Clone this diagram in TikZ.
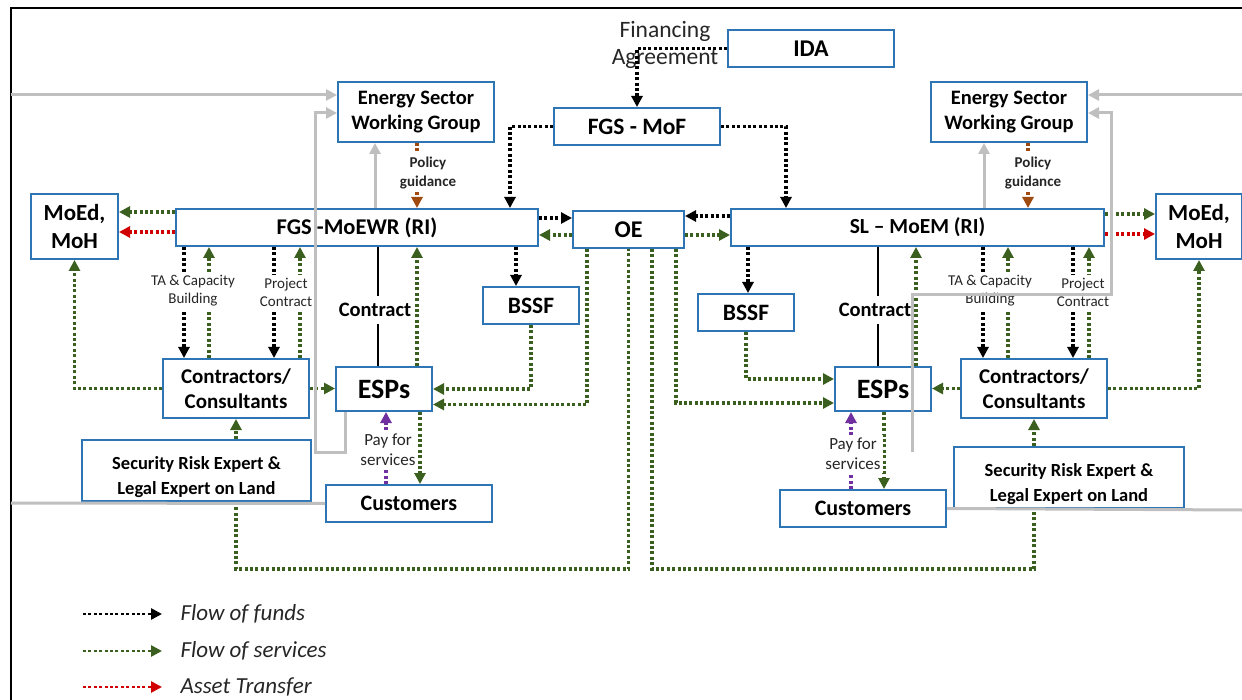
\documentclass[tikz,border=0pt]{standalone}
\usepackage{fontspec}
\setmainfont{Carlito}
\usetikzlibrary{arrows.meta,calc}
\definecolor{boxblue}{HTML}{2E75B6}
\definecolor{svcgreen}{HTML}{3A5F1E}
\definecolor{astred}{HTML}{D00000}
\definecolor{paypurple}{HTML}{7030A0}
\definecolor{polbrown}{HTML}{9E4A10}
\definecolor{lgray}{HTML}{BFBFBF}
\definecolor{txtdark}{HTML}{262626}
\newcommand{\myfs}[2]{\fontsize{#1}{#2}\selectfont}
\begin{document}
\begin{tikzpicture}[x=1pt,y=-1pt,
  >={Triangle[length=11pt,width=11pt]},
  box/.style={draw=boxblue, line width=2pt, fill=white, inner sep=0pt, align=center, font=\bfseries\myfs{23.5}{26}},
  lbl/.style={fill=white, inner xsep=2pt, inner ysep=3pt, align=center, text=txtdark, font=\myfs{15}{18}},
  flow/.style={line width=3.2pt, dash pattern=on 3pt off 2.4pt, ->},
  funds/.style={flow, draw=black},
  svc/.style={flow, draw=svcgreen},
  svcline/.style={line width=3.2pt, dash pattern=on 3pt off 2.4pt, draw=svcgreen},
  asset/.style={flow, draw=astred},
  pay/.style={flow, draw=paypurple},
  policy/.style={flow, draw=polbrown},
  glink/.style={draw=lgray, line width=3pt, ->},
  gline/.style={draw=lgray, line width=3pt},
  contractline/.style={draw=black, line width=2pt},
  legtext/.style={anchor=west, text=txtdark, font=\itshape\myfs{23}{26}}
]
\useasboundingbox (0,0) rectangle (1242,700);
\draw[line width=2pt] (11,700) -- (11,8) -- (1242,8);

% ---------- boxes ----------
\node[box, minimum width=166pt, minimum height=37pt, font=\bfseries\myfs{24}{26}] (ida) at (811,48.5) {IDA};
\node[box, minimum width=166pt, minimum height=37pt] (mof) at (637,126.5) {FGS - MoF};
\node[box, minimum width=156pt, minimum height=60pt, font=\bfseries\myfs{20.5}{25}] (eswgL) at (416,112) {Energy Sector\\Working Group};
\node[box, minimum width=156pt, minimum height=60pt, font=\bfseries\myfs{20.5}{25}] (eswgR) at (1009,112) {Energy Sector\\Working Group};
\node[box, minimum width=362pt, minimum height=37pt, font=\bfseries\myfs{22.5}{26}] (moewr) at (357,227.5) {FGS -MoEWR (RI)};
\node[box, minimum width=111pt, minimum height=37pt, font=\bfseries\myfs{24}{26}] (oe) at (628.5,229.5) {OE};
\node[box, minimum width=373pt, minimum height=37pt, font=\bfseries\myfs{21.5}{26}] (moem) at (917.5,227.5) {SL – MoEM (RI)};
\node[box, minimum width=87pt, minimum height=65pt, font=\bfseries\myfs{23}{28}] (moedL) at (74.5,226.5) {MoEd,\\MoH};
\node[box, minimum width=86pt, minimum height=65pt, font=\bfseries\myfs{23}{28}] (moedR) at (1199,226.5) {MoEd,\\MoH};
\node[box, minimum width=96pt, minimum height=37pt] (bssfL) at (531,305.5) {BSSF};
\node[box, minimum width=96pt, minimum height=37pt] (bssfR) at (746,312.5) {BSSF};
\node[box, minimum width=146pt, minimum height=59pt, font=\bfseries\myfs{21}{25}] (conL) at (236,388.5) {Contractors/\\Consultants};
\node[box, minimum width=146pt, minimum height=59pt, font=\bfseries\myfs{21}{25}] (conR) at (1034,388.5) {Contractors/\\Consultants};
\node[box, minimum width=96pt, minimum height=44pt, font=\bfseries\myfs{28}{30}] (espL) at (384,389) {ESPs};
\node[box, minimum width=96pt, minimum height=44pt, font=\bfseries\myfs{28}{30}] (espR) at (883,389) {ESPs};
\node[box, minimum width=166pt, minimum height=37pt, font=\bfseries\myfs{22}{24}] (custL) at (409,503.5) {Customers};
\node[box, minimum width=166pt, minimum height=37pt, font=\bfseries\myfs{22}{24}] (custR) at (863,508.5) {Customers};
\node[align=center, font=\bfseries\myfs{18.5}{25}] (secLt) at (196.5,477.5) {Security Risk Expert \&\\Legal Expert on Land};
\node[align=center, font=\bfseries\myfs{18.5}{25}] (secRt) at (1069,484.5) {Security Risk Expert \&\\Legal Expert on Land};
\node[box, fill=none, minimum width=229pt, minimum height=61pt] (secL) at (196.5,470.5) {};
\node[box, fill=none, minimum width=230pt, minimum height=61pt] (secR) at (1069,477.5) {};

\node[align=center, text=txtdark, font=\myfs{23.5}{27}] (fin) at (665,44.5) {Financing\\Agreement};

% ---------- flow of funds ----------
\draw[funds] (ida.west) -| (mof.north);
\draw[funds] (mof.west) -| ([xshift=335pt]moewr.north west);
\draw[funds] (mof.east) -| ([xshift=56pt]moem.north west);
\draw[funds] ([yshift=9.5pt]moewr.east) -- ([yshift=11.5pt]oe.west);
\draw[funds] ([yshift=11.5pt]moem.west) -- ([yshift=13.5pt]oe.east);
\draw[funds] ([xshift=341pt]moewr.south west) -- ([xshift=34pt]bssfL.north west);
\draw[funds] ([xshift=18pt]moem.south west) -- ([xshift=51pt]bssfR.north west);
\draw[funds] ([xshift=9pt]moewr.south west) -- ([xshift=22pt]conL.north west);
\draw[funds] ([xshift=99pt]moewr.south west) -- ([xshift=112pt]conL.north west);
\draw[funds] ([xshift=253pt]moem.south west) -- ([xshift=23pt]conR.north west);
\draw[funds] ([xshift=343pt]moem.south west) -- ([xshift=113pt]conR.north west);

% ---------- flow of services ----------
\draw[svc] ([yshift=-5.5pt]oe.west) -- ([yshift=-7.5pt]moewr.east);
\draw[svc] ([yshift=-5.5pt]oe.east) -- ([yshift=-7.5pt]moem.west);
\draw[svc] ([yshift=15.5pt]moewr.west) -- ([yshift=14.5pt]moedL.east);
\draw[svc] ([yshift=13.5pt]moem.east) -- ([yshift=12.5pt]moedR.west);
\draw[svc] (conL.west) -| (moedL.south);
\draw[svc] (conR.east) -| (moedR.south);
\draw[svc] (conL.east) -- (espL.west |- conL.east);
\draw[svc] (conR.west) -- (espR.east |- conR.west);
\draw[svc] (conL.south |- secL.north) -- (conL.south);
\draw[svc] (conR.south |- secR.north) -- (conR.south);
\draw[svc] ([xshift=47pt]conL.north west) -- ([xshift=34pt]moewr.south west);
\draw[svc] ([xshift=138pt]conL.north west) -- ([xshift=125pt]moewr.south west);
\draw[svc] ([xshift=48pt]conR.north west) -- ([xshift=278pt]moem.south west);
\draw[svc] ([xshift=129pt]conR.north west) -- ([xshift=359pt]moem.south west);
\draw[svc] ([xshift=82pt]espL.north west) -- ([xshift=242pt]moewr.south west);
\draw[svc] ([xshift=82pt]espR.north west) -- ([xshift=186pt]moem.south west);
\draw[svc] (bssfL.south) |- (espL.east);
\draw[svc] ([xshift=15pt]oe.south west) |- ([yshift=-15.5pt]espL.east);
\draw[svc] (bssfR.south) |- ([yshift=10pt]espR.west);
\draw[svc] ([xshift=104pt]oe.south west) |- ([yshift=-14pt]espR.west);
\draw[svc] ([xshift=85pt]espL.south west) -- ([xshift=95pt]custL.north west);
\draw[svc] ([xshift=50pt]espR.south west) -- ([xshift=105pt]custR.north west);
\draw[svcline] (conL.south |- secL.south) -- ++(0,67) -| (oe.south);
\draw[svcline] ([xshift=80pt]oe.south west) -- ++(0,320) -| (conR.south |- secR.south);

% ---------- asset transfer ----------
\draw[asset] ([yshift=-4.5pt]moewr.west) -- ([yshift=-5.5pt]moedL.east);
\draw[asset] ([yshift=-6.5pt]moem.east) -- ([yshift=-7.5pt]moedR.west);

% ---------- pay / policy / contract ----------
\draw[pay] ([xshift=61pt]custL.north west) -- ([xshift=51pt]espL.south west);
\draw[pay] ([xshift=72pt]custR.north west) -- ([xshift=17pt]espR.south west);
\draw[policy] ([xshift=80pt]eswgL.south west) -- ([xshift=242pt]moewr.north west);
\draw[policy] ([xshift=98pt]eswgR.south west) -- ([xshift=298pt]moem.north west);
\draw[contractline] ([xshift=203pt]moewr.south west) -- ([xshift=43pt]espL.north west);
\draw[contractline] ([xshift=148pt]moem.south west) -- ([xshift=44pt]espR.north west);

% ---------- labels ----------
\node[lbl] (taL) at (193,291) {TA \& Capacity\\Building};
\node[lbl] (pcL) at (286,292) {Project\\Contract};
\node[lbl] (taR) at (990,291) {TA \& Capacity\\Building};
\node[lbl] (pcR) at (1083,292) {Project\\Contract};
\node[lbl, inner ysep=7pt, text=black, font=\bfseries\myfs{20.5}{22}] (ctL) at (375,310) {Contract};
\node[lbl, inner ysep=7pt, text=black, font=\bfseries\myfs{20.5}{22}] (ctR) at (875,310) {Contract};
\node[lbl, font=\bfseries\myfs{15}{19}] (pgL) at (428,173) {Policy\\guidance};
\node[lbl, font=\bfseries\myfs{15}{19}] (pgR) at (1033,173) {Policy\\guidance};
\node[lbl, font=\myfs{17}{20}] (pfL) at (388,450) {Pay for\\services};
\node[lbl, font=\myfs{17}{20}] (pfR) at (853,454) {Pay for\\services};

% ---------- grey links ----------
\coordinate (gTL) at (11,95);
\coordinate (gTR) at (1242,95);
\coordinate (gBL) at (11,503);
\coordinate (gBR) at (1242,510);
\coordinate (gRend) at (912,452);
\draw[glink] (gTL) -- ([yshift=17pt]eswgL.west);
\draw[glink] (gTR) -- ([yshift=17pt]eswgR.east);
\draw[glink] ([xshift=10pt]espL.south west) -- ++(0,40) -- ++(-30,0) |- ([yshift=-1pt]eswgL.west);
\draw[glink] ([xshift=200pt]moewr.north west) -- ([xshift=38pt]eswgL.south west);
\draw[glink] ([xshift=254pt]moem.north west) -- ([xshift=54pt]eswgR.south west);
\draw[glink] (gRend) -- ++(0,-157) -- ++(199,0) |- ([yshift=-1pt]eswgR.east);
\draw[gline] (gBL) -- (custL.west);
\draw[gline] (custR.east) -- (gBR);

% ---------- legend ----------
\coordinate (lg1a) at (83,614);  \coordinate (lg1b) at (162,614);
\coordinate (lg2a) at (83,651);  \coordinate (lg2b) at (162,651);
\coordinate (lg3a) at (83,687);  \coordinate (lg3b) at (162,687);
\draw[funds, line width=2.6pt] (lg1a) -- (lg1b);
\draw[svc, line width=2.6pt] (lg2a) -- (lg2b);
\draw[asset, line width=2.6pt] (lg3a) -- (lg3b);
\node[legtext] (lt1) at (177,614) {Flow of funds};
\node[legtext] (lt2) at (177,651) {Flow of services};
\node[legtext] (lt3) at (177,687) {Asset Transfer};
\end{tikzpicture}
\end{document}
